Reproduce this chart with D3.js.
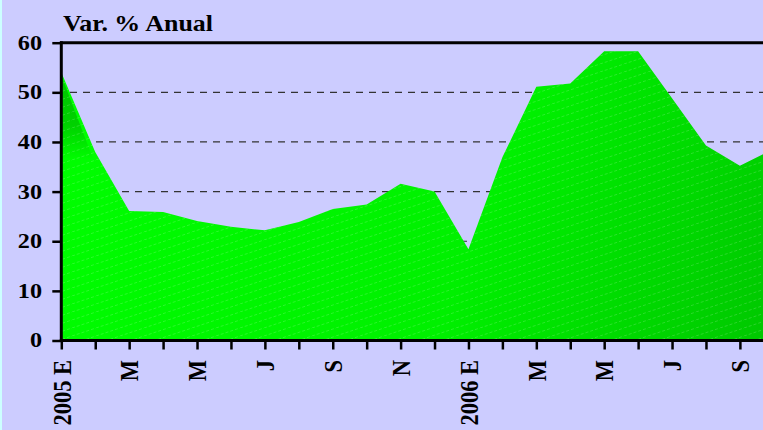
<!DOCTYPE html>
<html><head><meta charset="utf-8">
<script src="https://cdn.jsdelivr.net/npm/d3@7"></script>
<style>html,body{margin:0;padding:0;background:#ccccff;overflow:hidden}</style>
</head><body>
<script>
const months = ["2005 E","F","M","A","M","J","J","A","S","O","N","D","2006 E","F","M","A","M","J","J","A","S","O"];
const values = [54.0,38.0,26.1,25.9,24.1,22.9,22.2,23.9,26.5,27.4,31.6,30.0,18.4,36.9,51.1,51.8,58.3,58.3,48.8,39.3,35.2,38.6];
const labelEvery = 2;
const yTicks = [0,10,20,30,40,50,60];
const gridTicks = [10,20,30,40,50];
const title = "Var. % Anual";

const FONT = "Liberation Serif";
const W = 763, H = 430;
const svg = d3.select("body").append("svg").attr("width", W).attr("height", H);
svg.append("rect").attr("width", W).attr("height", H).attr("fill", "#ccccff");
svg.append("rect").attr("width", 2).attr("height", H).attr("fill", "#ccffff");

const x = d3.scaleLinear().domain([0, 21]).range([61.3, 61.3 + 33.93 * 21]);
const y = d3.scaleLinear().domain([0, 60]).range([340.5, 42.7]);

const defs = svg.append("defs");
const grad = defs.append("linearGradient").attr("id", "g").attr("gradientUnits", "userSpaceOnUse")
  .attr("x1", 62).attr("y1", 40).attr("x2", 763).attr("y2", 345);
grad.append("stop").attr("offset", "0").attr("stop-color", "#00ff00");
grad.append("stop").attr("offset", "0.6").attr("stop-color", "#00f000");
grad.append("stop").attr("offset", "1").attr("stop-color", "#00c800");
const sg = defs.append("linearGradient").attr("id", "s").attr("gradientUnits", "userSpaceOnUse")
  .attr("x1", 0).attr("y1", y(values[0])).attr("x2", 0).attr("y2", y(values[1]) + 8);
sg.append("stop").attr("offset", "0").attr("stop-color", "#00c400").attr("stop-opacity", 1);
sg.append("stop").attr("offset", "0.6").attr("stop-color", "#00cc00").attr("stop-opacity", 0.9);
sg.append("stop").attr("offset", "1").attr("stop-color", "#00cc00").attr("stop-opacity", 0);
const pat = defs.append("pattern").attr("id", "h").attr("patternUnits", "userSpaceOnUse")
  .attr("width", 24).attr("height", 8);
pat.append("path").attr("d", "M0,8 L24,0").attr("stroke", "#ffffff").attr("stroke-opacity", 0.16)
  .attr("stroke-width", 1).attr("stroke-dasharray", "3,2");

// grid
svg.append("g").selectAll("line").data(gridTicks).join("line")
  .attr("x1", 62).attr("x2", W).attr("y1", d => y(d)).attr("y2", d => y(d))
  .attr("stroke", "#333").attr("stroke-width", 1.2).attr("stroke-dasharray", "7,6")
  .attr("stroke-dashoffset", -8);

const area = d3.area().x((d, i) => x(i)).y0(y(0)).y1(d => y(d));
const clip = defs.append("clipPath").attr("id", "c");
clip.append("rect").attr("x", 62).attr("y", 0).attr("width", W).attr("height", H);
svg.append("path").datum(values).attr("d", area).attr("fill", "url(#g)").attr("clip-path", "url(#c)");
// side shading of first segment
svg.append("path").datum(values.slice(0, 2))
  .attr("d", d => `M${x(0)},${y(d[0]) + 3}L${x(1) - 4},${y(d[1]) + 2}L${x(1) - 1},${y(d[1]) + 8}L${x(0)},${y(d[1]) + 8}Z`)
  .attr("fill", "url(#s)").attr("clip-path", "url(#c)");
svg.append("path").datum(values).attr("d", area).attr("fill", "url(#h)").attr("clip-path", "url(#c)");

// top border
svg.append("line").attr("x1", 60).attr("x2", W).attr("y1", y(60)).attr("y2", y(60))
  .attr("stroke", "#000").attr("stroke-width", 3);

// y axis
const yAxis = svg.append("g").attr("transform", `translate(${x(0)},0)`)
  .call(d3.axisLeft(y).tickValues(yTicks).tickSize(9).tickFormat(""));
yAxis.select(".domain").attr("stroke-width", 3).attr("d", `M0,${y(60) - 1.5}V${y(0) + 1.5}`);
yAxis.selectAll(".tick line").attr("stroke-width", 2.5);
svg.append("g").selectAll("text").data(yTicks).join("text")
  .attr("transform", d => `translate(42,${y(d)}) scale(1.18,1)`)
  .attr("text-anchor", "end").attr("dy", "0.34em")
  .attr("font-family", FONT).attr("font-weight", "bold").attr("font-size", 20.5).text(d => d);

// x axis
const xAxis = svg.append("g").attr("transform", `translate(0,${y(0)})`)
  .call(d3.axisBottom(x).tickValues(d3.range(months.length)).tickSize(9).tickFormat(""));
xAxis.select(".domain").attr("stroke-width", 3).attr("d", `M${x(0) - 1.5},0H${W + 20}`);
xAxis.selectAll(".tick line").attr("stroke-width", 2.5);

svg.append("g").selectAll("text").data(months.map((m, i) => ({m, i})).filter(d => d.i % labelEvery === 0))
  .join("text")
  .attr("transform", d => `translate(${x(d.i) + 0.5},360) scale(1.14,1) rotate(-90)`)
  .attr("text-anchor", "end").attr("dy", "0.34em")
  .attr("font-family", FONT).attr("font-weight", "bold").attr("font-size", 22.5).text(d => d.m);

svg.append("text").attr("transform", "translate(63,31) scale(1.08,1)")
  .attr("font-family", FONT).attr("font-weight", "bold").attr("font-size", 24).text(title);
</script>
</body></html>
